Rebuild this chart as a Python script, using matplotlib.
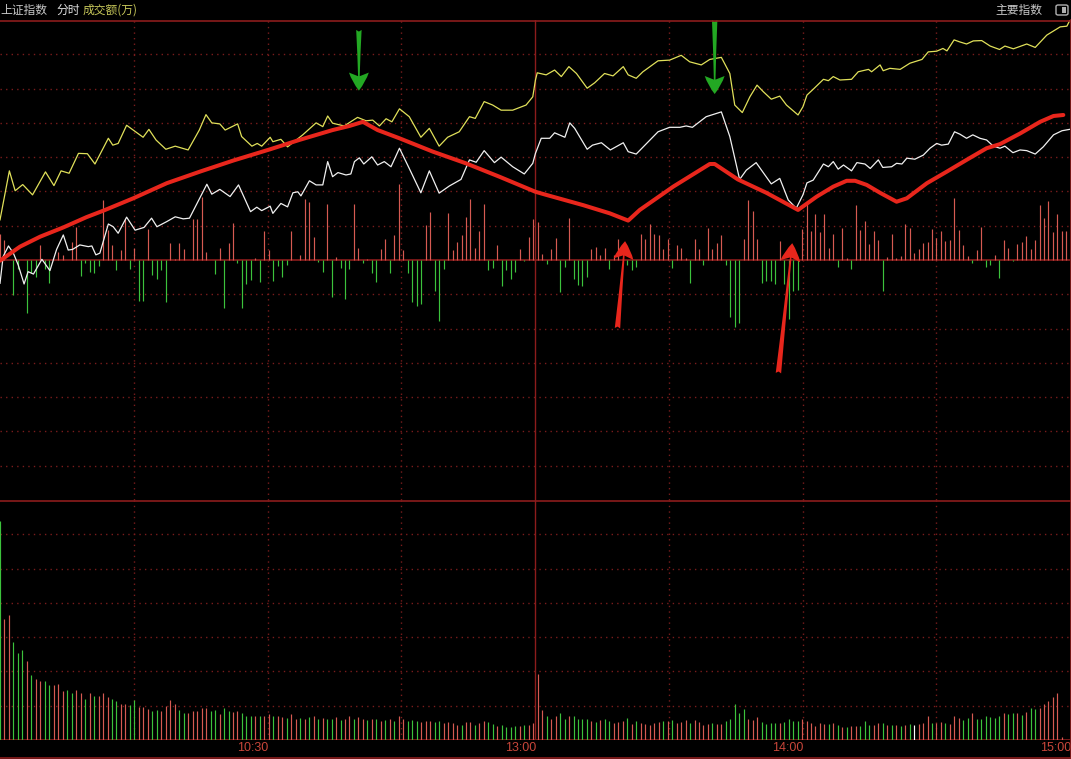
import numpy as np
import matplotlib.pyplot as plt
from matplotlib.lines import Line2D
from matplotlib.patches import FancyBboxPatch, Rectangle

plt.rcParams['font.family'] = ['Noto Sans CJK SC', 'DejaVu Sans']

# ---- data (x in trading minutes from 9:30, y in grid units, 0 = prev close) ----
yel_t = [0, 2.1, 3.4, 5.1, 7.3, 10.2, 12.1, 13.7, 15.5, 17.6, 19.6, 21.3, 24.3, 25.3, 26.5,
         28.4, 32.1, 33.4, 35.0, 37.2, 39.3, 42.2, 44.7, 46.2, 47.5, 49.3, 50.5, 53.3, 54.2,
         56.5, 57.7, 58.7, 60.6, 61.2, 63.0, 64.5, 67.9, 70.9, 72.4, 73.5, 74.6, 77.2, 80.2,
         82.1, 83.6, 85.1, 86.6, 87.9, 89.6, 91.8, 94.4, 96.3, 98.5, 100.4, 103.0, 105.3,
         106.6, 108.6, 110.5, 112.4, 115.0, 118.0, 119.5, 120.1, 120.5, 122.5, 124.4, 125.9,
         127.6, 129.3, 131.7, 133.4, 135.6, 137.5, 139.8, 140.9, 142.7, 144.2, 147.6, 150.2,
         152.8, 154.7, 157.3, 159.2, 161.8, 163.7, 164.8, 166.5, 168.2, 169.8, 171.2, 173.0,
         174.9, 176.4, 179.0, 180.1, 181.0, 182.4, 184.7, 185.8, 186.9, 188.4, 191.0, 192.5,
         194.8, 195.5, 197.4, 198.1, 199.6, 201.9, 204.1, 206.8, 208.2, 210.1, 211.5, 212.4,
         214.0, 215.3, 216.8, 218.3, 220.2, 222.1, 224.2, 225.4, 227.3, 230.3, 232.2, 234.8,
         237.8, 239.3, 240.0]
yel_v = [1.17, 2.60, 2.02, 2.20, 1.90, 2.57, 2.17, 2.60, 2.53, 3.11, 3.10, 2.80, 3.55, 3.35, 3.40,
         3.93, 3.58, 3.81, 3.50, 3.23, 3.32, 3.21, 3.79, 4.24, 4.00, 3.97, 3.79, 3.97, 3.60,
         3.32, 3.40, 3.32, 3.58, 3.45, 3.52, 3.30, 3.65, 4.00, 3.89, 4.20, 3.99, 3.91, 4.16,
         4.06, 4.08, 3.91, 4.12, 4.03, 4.41, 4.18, 3.58, 3.84, 3.32, 3.58, 3.74, 4.18,
         4.13, 4.62, 4.52, 4.37, 4.37, 4.52, 4.76, 5.25, 5.46, 5.40, 5.54, 5.35,
         5.64, 5.44, 5.01, 5.17, 5.44, 5.37, 5.64, 5.40, 5.30, 5.49, 5.81, 5.83,
         5.97, 5.78, 5.69, 5.85, 5.91, 5.44, 4.52, 4.30, 4.76, 5.10, 4.91, 4.69,
         4.78, 4.52, 4.23, 4.47, 4.81, 4.98, 5.27, 5.23, 5.35, 5.25, 5.27, 5.49,
         5.56, 5.49, 5.69, 5.52, 5.59, 5.56, 5.74, 5.85, 6.07, 6.09, 6.17, 6.10,
         6.42, 6.36, 6.30, 6.39, 6.40, 6.24, 6.14, 6.24, 6.16, 6.30, 6.20, 6.56,
         6.80, 6.82, 7.0]

wht_t = [0, 0.7, 1.9, 3.0, 4.1, 5.4, 6.3, 7.5, 9.4, 11.2, 12.7, 14.2, 15.3, 16.3, 17.9, 19.8,
         20.6, 21.5, 22.4, 24.3, 25.4, 26.5, 28.4, 30.3, 32.3, 34.0, 35.2, 37.4, 39.3, 41.1,
         42.5, 46.4, 47.5, 49.3, 51.6, 53.5, 56.2, 57.6, 58.7, 60.6, 61.2, 63.0, 64.5, 65.7,
         66.8, 67.5, 69.4, 70.9, 72.4, 73.5, 74.6, 75.8, 77.6, 78.7, 79.5, 80.6, 81.6, 83.4,
         84.7, 86.2, 87.7, 89.6, 91.8, 94.4, 96.3, 98.5, 100.8, 103.4, 105.3, 106.8, 108.6,
         110.9, 112.4, 115.0, 117.6, 119.5, 120.1, 121.4, 123.3, 124.4, 126.7, 127.8, 128.9,
         131.7, 132.9, 134.9, 136.9, 139.8, 140.9, 142.7, 144.2, 147.6, 150.2, 152.5, 153.9,
         155.3, 158.4, 161.8, 163.7, 165.9, 167.4, 169.6, 171.2, 173.0, 174.9, 176.8, 178.6,
         180.1, 181.0, 182.4, 184.7, 185.8, 186.9, 188.0, 189.2, 191.0, 192.2, 194.0, 195.2,
         197.0, 198.0, 200.0, 201.1, 202.3, 203.4, 205.2, 207.1, 208.6, 210.1, 211.2, 212.7,
         214.1, 215.3, 216.8, 218.2, 219.8, 221.3, 222.8, 224.3, 225.4, 227.2, 228.8, 230.3,
         232.2, 234.0, 236.3, 238.2, 239.9]
wht_v = [-0.68, 0.10, 0.41, 0.20, -0.15, -0.70, -0.34, -0.41, 0.02, -0.31, 0.31, 0.73, 0.29, 0.31,
         0.44, 0.39, 0.41, 0.15, 0.20, 1.05, 0.97, 0.78, 1.25, 0.87, 0.95, 1.22, 0.97, 1.12, 1.26,
         1.20, 1.22, 2.21, 1.92, 2.06, 1.85, 2.19, 1.41, 1.54, 1.44, 1.57, 1.36, 1.65, 1.55, 1.96,
         1.99, 1.87, 2.31, 2.19, 2.19, 2.87, 2.43, 2.55, 2.48, 2.51, 2.87, 2.98, 2.80, 3.01,
         2.77, 2.87, 2.72, 3.26, 2.67, 1.96, 2.60, 1.95, 2.16, 2.35, 2.92, 2.85, 3.19,
         2.84, 3.00, 2.72, 2.51, 2.82, 3.11, 3.55, 3.55, 3.71, 3.58, 4.00, 3.84,
         3.23, 3.35, 3.42, 3.21, 3.42, 3.16, 3.09, 3.29, 3.74, 3.87, 3.87, 3.91,
         3.87, 4.18, 4.32, 3.60, 2.35, 2.62, 2.84, 2.55, 2.22, 2.38, 1.75, 1.51,
         1.90, 2.25, 2.33, 2.80, 2.72, 2.87, 2.65, 2.77, 2.60, 2.84, 2.80, 2.67,
         2.92, 2.70, 2.72, 2.82, 2.80, 2.97, 2.94, 3.06, 3.26, 3.40, 3.35, 3.38,
         3.74, 3.67, 3.55, 3.65, 3.55, 3.50, 3.32, 3.26, 3.32, 3.13, 3.21, 3.19,
         3.09, 3.30, 3.65, 3.77, 3.81]

# hand-drawn red trend line
trend_t = [0, 4.5, 9.0, 14.2, 19.4, 23.2, 29.9, 37.4, 44.9, 52.3, 60.6, 67.1, 74.6, 78.4, 81.4,
           84.7, 89.6, 97.1, 104.5, 112.0, 120.1, 122.5, 130.8, 136.8, 140.9, 143.5, 151.0,
           159.2, 160.3, 165.5, 171.9, 179.0, 183.2, 186.9, 189.9, 191.8, 194.4, 197.4, 201.1,
           203.4, 207.9, 212.4, 216.8, 221.3, 224.3, 228.8, 233.3, 236.3, 238.5]
trend_v = [-0.02, 0.39, 0.68, 0.95, 1.25, 1.44, 1.80, 2.24, 2.58, 2.90, 3.23, 3.50, 3.79, 3.91, 4.03,
           3.79, 3.55, 3.16, 2.82, 2.43, 1.99, 1.90, 1.60, 1.36, 1.15, 1.46, 2.14,
           2.80, 2.80, 2.35, 1.96, 1.46, 1.85, 2.14, 2.31, 2.31, 2.19, 1.96, 1.70,
           1.80, 2.24, 2.58, 2.92, 3.26, 3.38, 3.69, 4.03, 4.20, 4.23]

# per-minute buy/sell bars around the zero line
flow = [0.75, 0.58, 0, -1.01, -0.25, 0, -1.54, -0.39, -0.49, 0.45,
        -0.27, -0.66, 0, 0.23, 0.14, 0, 0.52, 0.95, -0.47, -0.10,
        -0.35, -0.37, -0.17, 1.74, 0.87, 0.43, -0.29, 0.29, 1.21, -0.25,
        0.35, -1.20, -1.20, 0.89, -0.45, -0.56, -0.29, -1.22, 0.49, 0.02,
        0.49, 0.33, 0, 1.21, 1.21, 1.85, 0.23, 0, -0.42, 0.36,
        -1.39, 0.49, 1.07, -0.08, -1.39, -0.71, -0.58, 0.07, -0.64, 0.84,
        0.29, -0.61, -0.17, -0.49, -0.16, 0.84, 0, 0.14, 1.77, 1.69,
        0.68, -0.06, -0.35, 1.62, -1.07, 0.10, -0.22, -1.13, -0.25, 1.62,
        0.36, -0.08, 0.02, -0.37, -0.64, 0.31, 0.62, -0.37, 0.72, 2.21,
        0.29, -0.39, -1.22, -1.34, -1.29, 1.01, 1.40, -0.90, -1.78, -0.25,
        1.36, 0.29, 0.52, 0.72, 1.24, 1.79, 0.36, 0.84, 1.62, -0.29,
        -0.22, 0.45, -0.76, -0.29, -0.56, -0.35, 0.33, -0.03, 0.68, 1.21,
        1.11, 0.17, -0.13, 0.33, 0.65, -0.93, -0.19, 1.23, -0.56, -0.74,
        -0.76, -0.49, 0.31, 0.37, 0.14, 0.36, -0.25, 0.14, 0.62, 0,
        -0.16, -0.29, -0.19, 0.75, 0.60, 1.04, 0.75, 0.72, 0.33, 0.62,
        -0.22, 0.45, 0.36, 0.06, -0.66, 0.62, 0.33, -0.16, 0.94, 0.33,
        0.49, 0.72, -0.16, -1.66, -1.95, -1.83, 0.60, 1.74, 1.43, 0.60,
        -0.66, -0.60, -0.62, -0.70, 0.55, -0.70, -1.72, -0.90, -0.88, 0.91,
        1.72, 0.84, 1.33, 0.82, 1.33, 0.36, 0.75, -0.19, 0.94, 0.07,
        -0.25, 1.59, 0.87, 1.14, 0.46, 0.84, 0.58, -0.90, 0.08, 0.75,
        0.06, 0.12, 1.04, 0.93, 0.19, 0.31, 0.49, 0.52, 0.89, 0.64,
        0.84, 0.56, 0.58, 1.82, 0.87, 0.43, 0.12, -0.08, 0.29, 0.95,
        -0.19, -0.16, 0.14, -0.52, 0.58, 0.35, -0.02, 0.46, 0.52, 0.70,
        0.31, 0.58, 1.59, 1.22, 1.72, 0.82, 1.33, 0.84, 0.84]

# turnover per minute and its direction (r up, g down, w flat)
vol = [6.39, 3.53, 3.64, 2.85, 2.53, 2.62, 2.30, 1.90, 1.78, 1.72,
       1.72, 1.60, 1.60, 1.63, 1.43, 1.46, 1.36, 1.46, 1.36, 1.20,
       1.36, 1.28, 1.28, 1.36, 1.24, 1.19, 1.14, 1.05, 1.05, 1.01,
       1.17, 0.97, 0.95, 0.89, 0.85, 0.87, 0.85, 0.99, 1.17, 1.05,
       0.87, 0.80, 0.80, 0.85, 0.85, 0.93, 0.93, 0.85, 0.87, 0.76,
       0.93, 0.85, 0.82, 0.85, 0.78, 0.70, 0.70, 0.70, 0.70, 0.70,
       0.76, 0.70, 0.70, 0.66, 0.64, 0.76, 0.62,
       0.64, 0.60, 0.66, 0.70, 0.62, 0.64, 0.60, 0.62, 0.66, 0.58,
       0.62, 0.70, 0.60, 0.66, 0.60, 0.58, 0.62, 0.60, 0.56, 0.58,
       0.62, 0.56, 0.70, 0.60, 0.56, 0.58, 0.56, 0.52, 0.56, 0.54,
       0.52, 0.54, 0.50, 0.52,
       0.50, 0.44, 0.44, 0.53, 0.53, 0.44, 0.50, 0.56, 0.53, 0.47,
       0.41, 0.44, 0.39, 0.39, 0.41, 0.41, 0.44, 0.44, 0.50, 1.92,
       0.87, 0.70, 0.61, 0.70, 0.78, 0.61, 0.70, 0.70, 0.60, 0.60,
       0.61, 0.55, 0.52, 0.58, 0.61, 0.55, 0.50, 0.53, 0.55, 0.63,
       0.47, 0.55, 0.50, 0.47, 0.44, 0.50, 0.53, 0.55, 0.55, 0.58,
       0.50, 0.52, 0.58, 0.49, 0.58, 0.52, 0.44, 0.47, 0.49, 0.47,
       0.47, 0.55, 0.62, 1.05, 0.80, 0.90, 0.61, 0.58, 0.68, 0.53,
       0.47, 0.50, 0.50, 0.50, 0.53, 0.61, 0.55, 0.55, 0.61, 0.55,
       0.50, 0.41, 0.50, 0.47, 0.47, 0.50, 0.44, 0.39, 0.39,
       0.41, 0.41, 0.41, 0.55, 0.44, 0.44, 0.49, 0.49, 0.44, 0.44,
       0.44, 0.41, 0.44, 0.47, 0.44, 0.47, 0.50, 0.70, 0.50, 0.50,
       0.53, 0.50, 0.47, 0.70, 0.63, 0.58, 0.63, 0.80, 0.60, 0.60,
       0.70, 0.66, 0.63, 0.70, 0.80, 0.76, 0.80, 0.78, 0.73, 0.82,
       0.92, 0.90, 0.92, 1.05, 1.15, 1.25, 1.38, 0.08]
vol_dir = ("grrgggrgrr" "ggrrrggrrg" "rgrrrggrrg" "grrrggrrrr" "ggrrrrrggr" "ggrrgggrgr" "rgrrgrr"
           "grgrgrggrg" "rrgrrgrgrg" "rgrrgggrrr" "ggrr"
           "rrgrrgrrgg" "rggggrgrrr" "rgrrggrggg" "grgrggrrrg" "rgrrrrrgrg" "rrrgrrrrgr"
           "rgggggrrrg" "gggrggggrr" "rrrrgrgrg"
           "rrgggrrgrg" "rgrgwrrrgr" "rgrrrggrgg" "ggggrggrgr" "ggrrrrrr")

time_ticks = [60, 120, 180, 240]
time_labels = ['10:30', '13:00', '14:00', '15:00']

# ---- style ----
W, H = 1071, 759
BG = 'black'
FRAME = '#8c1c1c'
GRID = '#7a1c1c'
RED_BAR = '#d65a52'
GRN_BAR = '#3cc23c'
step = 240 / 238.8   # bar spacing in minutes

fig = plt.figure(figsize=(W / 100, H / 100), dpi=100, facecolor=BG)
ax = fig.add_axes([0, 1 - 500 / H, 1070 / W, 480 / H], facecolor=BG)
axv = fig.add_axes([0, 1 - 740 / H, 1070 / W, 240 / H], facecolor=BG)

for a in (ax, axv):
    a.set_xlim(0, 240)
    a.set_xticks([])
    a.set_yticks([])
    for s in a.spines.values():
        s.set_visible(False)
    for m in range(30, 240, 30):
        if m == 120:
            a.axvline(m, color=FRAME, lw=1.0, zorder=1)
        else:
            a.axvline(m, color=GRID, lw=1.0, ls=(0, (1, 3)), zorder=1)

ax.set_ylim(-7, 7)
axv.set_ylim(0, 7)
for v in range(-6, 7):
    if v == 0:
        ax.axhline(0, color=FRAME, lw=1.2, zorder=2)
    else:
        ax.axhline(v, color=GRID, lw=1.0, ls=(0, (1, 3)), zorder=1)
for v in range(1, 7):
    axv.axhline(v, color=GRID, lw=1.0, ls=(0, (1, 3)), zorder=1)
axv.axhline(0, color=FRAME, lw=1.2, zorder=2)

# flow bars
fx = np.arange(len(flow)) * step
flow = np.array(flow)
ax.vlines(fx, 0, flow, colors=[RED_BAR if f >= 0 else GRN_BAR for f in flow], lw=0.85, zorder=3)

# price lines
ax.plot(yel_t, yel_v, color='#e0e05a', lw=0.9, zorder=4)
ax.plot(wht_t, wht_v, color='#f0f0f0', lw=0.9, zorder=4)
ax.plot(trend_t, trend_v, color='#e8261c', lw=2.9, solid_joinstyle='round',
        solid_capstyle='round', zorder=5)

# annotation arrows
arrow_style = 'fancy,head_length=0.5,head_width=0.55,tail_width=0.15'
for tail, tip, col in [((80.5, 6.71), (80.5, 4.94), '#23a823'),
                       ((160.3, 7.0), (160.3, 4.84), '#23a823'),
                       ((138.5, -1.99), (140.2, 0.55), '#e8261c'),
                       ((174.6, -3.30), (177.7, 0.49), '#e8261c')]:
    ax.annotate('', xy=tip, xytext=tail,
                arrowprops=dict(arrowstyle=arrow_style, color=col, lw=0,
                                mutation_scale=26, shrinkA=0, shrinkB=0), zorder=6)

# volume bars
vx = np.arange(len(vol)) * step
cmap = {'r': RED_BAR, 'g': GRN_BAR, 'w': '#ffffff'}
axv.vlines(vx, 0, vol, colors=[cmap[c] for c in vol_dir], lw=0.85, zorder=3)

# frame lines
for py in (20.5, 500.5, 757.5):
    fig.add_artist(Line2D([0, 1], [1 - py / H] * 2, color=FRAME, lw=1.2))
fig.add_artist(Line2D([1070.5 / W] * 2, [1 - 20 / H, 1 - 758 / H], color=FRAME, lw=1.2))

# time labels
for t, lab in zip(time_ticks, time_labels):
    axv.annotate(lab, xy=(t, 0), xycoords=('data', 'axes fraction'),
                 xytext=(1, -8), textcoords='offset pixels', ha='right', va='center',
                 color='#c8463a', fontsize=9, family='Liberation Sans')

# header
ty = 1 - 10 / H
fig.text(0 / W, ty, '上证指数', color='#c8c8c8', fontsize=8.5, va='center', ha='left')
fig.text(56 / W, ty, '分时', color='#e0e0e0', fontsize=8.5, va='center', ha='left')
fig.text(83 / W, ty, '成交额(万)', color='#c8c85a', fontsize=8.5, va='center', ha='left')
fig.text(1042 / W, ty, '主要指数', color='#c8c8c8', fontsize=8.5, va='center', ha='right')
fig.add_artist(FancyBboxPatch((1056 / W, 1 - 15 / H), 12 / W, 10 / H,
                              boxstyle='round,pad=0,rounding_size=0.002',
                              transform=fig.transFigure, fill=False, ec='#b0b0b0', lw=1))
fig.add_artist(Rectangle((1062 / W, 1 - 13 / H), 4 / W, 6 / H,
                         transform=fig.transFigure, fc='#b0b0b0', ec='none'))

fig.savefig('out.png', dpi=100, facecolor=BG)
